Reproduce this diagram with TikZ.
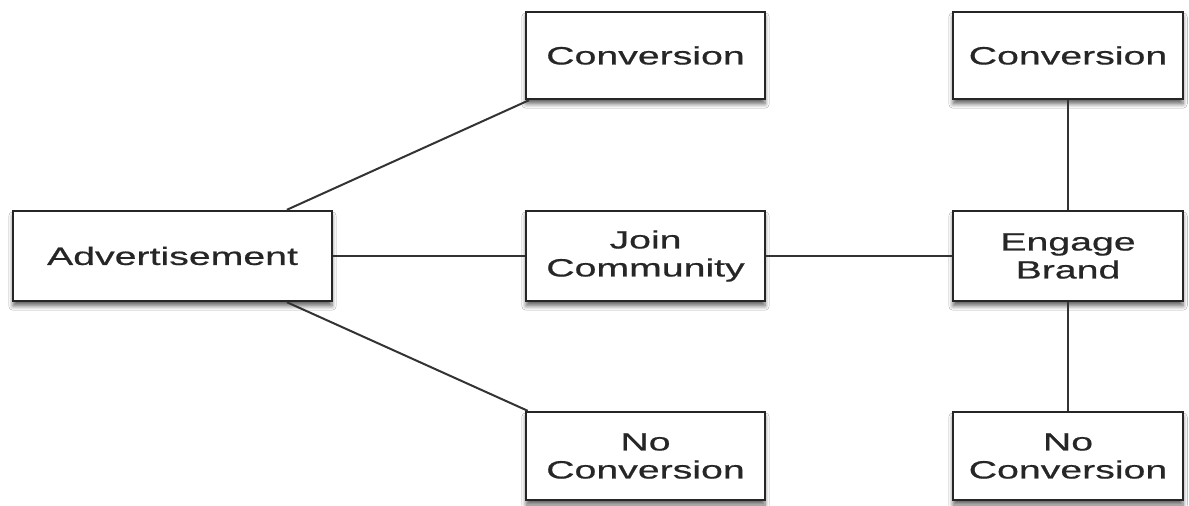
\documentclass[tikz,border=0pt]{standalone}
\usepackage{fontspec}
\setmainfont[FakeStretch=1.57,FakeBold=0.6]{Liberation Sans}
\usetikzlibrary{shadows.blur}

\begin{document}
\begin{tikzpicture}[x=0.5pt,y=-0.5pt,
  box/.style={draw=black!85,line width=1.2pt,fill=white,align=center,
    font=\fontsize{12.5}{14}\selectfont,text=black!85,inner sep=0pt,
    blur shadow={shadow xshift=0pt,shadow yshift=-2.5pt,shadow blur steps=6,shadow opacity=60}},
  mid/.style={box,minimum width=119.5pt,minimum height=45pt},
  side/.style={box,minimum width=115pt,minimum height=45pt},
  link/.style={draw=black!80,line width=1pt}]
\fill[white] (0,0) rectangle (1189,506);
\useasboundingbox (0,0) rectangle (1189,506);
\node[box,minimum width=159.5pt,minimum height=45pt] (adv) at (172.5,256) {Advertisement};
\node[mid,minimum height=43.5pt] (conv) at (645.5,55.5) {Conversion};
\node[mid] (join) at (645.5,256) {Join\\Community};
\node[mid,minimum height=44pt] (noconv) at (645.5,456) {No\\Conversion};
\node[side,minimum height=43.5pt] (convb) at (1068,55.5) {Conversion};
\node[side] (engage) at (1068,256) {Engage\\Brand};
\node[side,minimum height=44pt] (noconvb) at (1068,456) {No\\Conversion};
\draw[link] (adv.22) -- (conv.201);
\draw[link] (adv) -- (join);
\draw[link] (adv.-22) -- (noconv.159);
\draw[link] (join) -- (engage);
\draw[link] (engage) -- (convb);
\draw[link] (engage) -- (noconvb);
\end{tikzpicture}
\end{document}
